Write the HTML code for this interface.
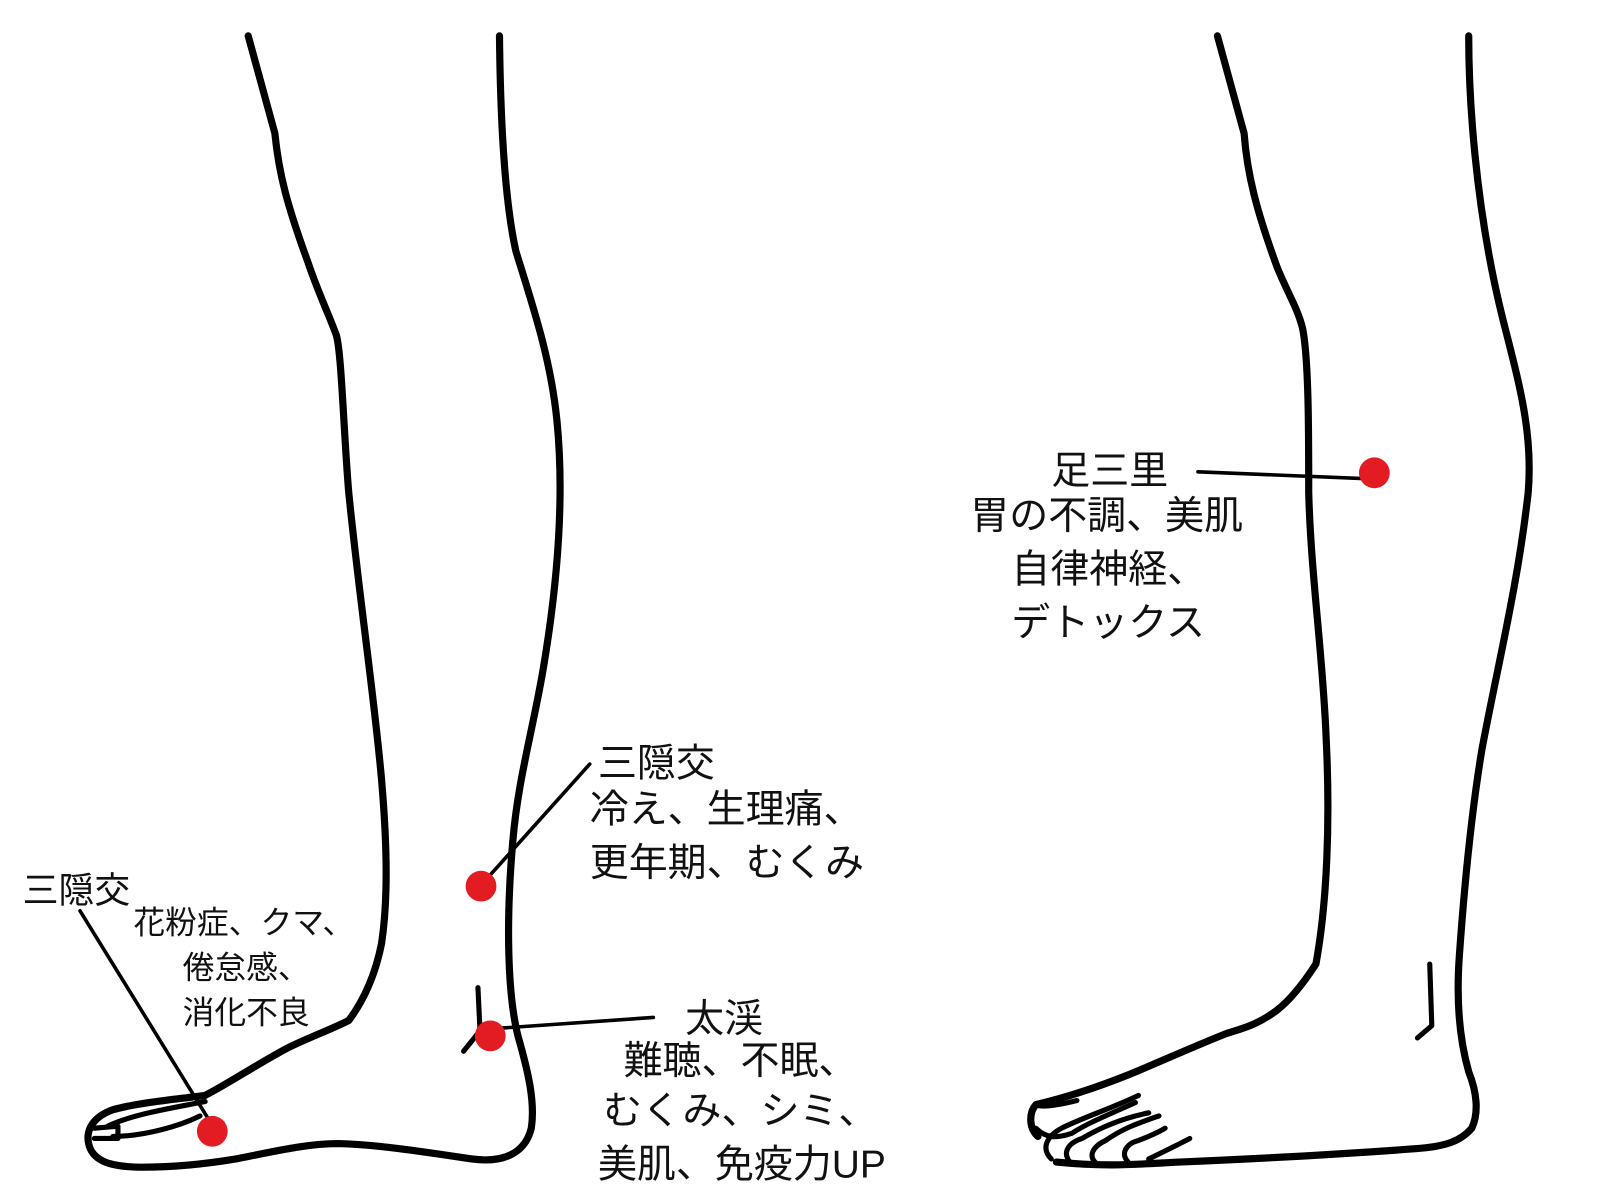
<!DOCTYPE html>
<html><head><meta charset="utf-8"><style>
html,body{margin:0;padding:0;background:#fff;}
svg{display:block;}
text{font-family:"Liberation Sans","Noto Sans CJK JP",sans-serif;fill:#111;}
</style></head><body>
<svg width="1600" height="1200" viewBox="0 0 1560 1170" xmlns="http://www.w3.org/2000/svg">
<g fill="none" stroke="#000" stroke-width="7" stroke-linecap="round" stroke-linejoin="round">
<path d="M242,35 L268,130 C272,170 280,200 300,255 C310,285 320,305 328,327 C333,345 335,420 340,480 C350,580 365,680 372,760 C378,830 378,880 372,920 C366,950 355,975 340,995 C320,1005 300,1012 280,1022 C250,1038 220,1058 200,1068 C170,1072 135,1075 110,1082 C88,1090 82,1105 88,1120 C95,1135 115,1138 140,1138 C170,1138 200,1135 230,1130 C270,1122 300,1115 330,1115 C370,1116 420,1124 460,1130 C490,1134 512,1125 518,1100 C522,1075 515,1045 505,1010 C495,970 493,900 500,820 C505,760 520,710 530,650 C545,560 550,480 543,410 C537,350 520,300 503,245 C493,200 488,130 487,35"/>
<path d="M1187,35 L1213,130 C1216,170 1225,205 1245,260 C1255,285 1265,300 1270,320 C1276,350 1276,420 1276,480 C1278,560 1290,640 1293,720 C1297,800 1294,880 1283,940 C1270,960 1258,975 1245,985 C1225,1000 1210,1003 1195,1008 C1160,1022 1120,1040 1100,1048 C1070,1060 1040,1070 1010,1077 C1003,1085 1003,1100 1012,1108"/>
<path d="M1030,1133 C1080,1138 1110,1135 1150,1133 C1220,1130 1300,1126 1380,1120 C1410,1118 1425,1112 1435,1100 C1442,1085 1440,1065 1432,1045 C1422,1010 1420,970 1423,930 C1428,860 1435,790 1445,730 C1460,650 1480,570 1490,480 C1495,420 1480,370 1465,310 C1450,250 1442,190 1438,150 C1434,110 1432,70 1432,35"/>
</g>
<g fill="none" stroke="#000" stroke-width="5" stroke-linecap="round" stroke-linejoin="round">
<path d="M105,1098 C130,1086 170,1080 200,1074"/>
<path d="M110,1108 C140,1108 175,1098 195,1088"/>
<path d="M92,1100 L115,1098 L115,1110 L92,1110"/>
<path d="M466,963 L468,1005 L452,1025"/>
<path d="M1394,940 L1396,1000 L1382,1012"/>
<path d="M1010,1077 C1015,1080 1030,1078 1050,1073"/>
<path d="M1010,1100 C1020,1110 1030,1110 1045,1105 C1060,1095 1085,1085 1107,1075"/>
<path d="M1025,1130 C1015,1120 1020,1108 1035,1100 C1055,1090 1085,1080 1110,1068"/>
<path d="M1045,1135 C1035,1125 1040,1115 1055,1110 C1075,1098 1095,1090 1120,1085"/>
<path d="M1070,1135 C1060,1128 1065,1118 1078,1112 C1095,1100 1110,1095 1130,1088"/>
<path d="M1100,1133 C1092,1125 1098,1115 1110,1112 C1120,1108 1128,1105 1136,1100"/>
<path d="M1120,1130 C1130,1125 1145,1118 1160,1110"/>
</g>
<g stroke="#000" stroke-width="3.5" stroke-linecap="round">
<line x1="78" y1="888" x2="210" y2="1102"/>
<line x1="575" y1="745" x2="470" y2="862"/>
<line x1="637" y1="992" x2="480" y2="1003"/>
<line x1="1168" y1="460" x2="1338" y2="467"/>
</g>
<g fill="#e31b23">
<circle cx="207" cy="1103" r="15"/>
<circle cx="469" cy="864" r="15"/>
<circle cx="478" cy="1010" r="15"/>
<circle cx="1340" cy="461" r="15"/>
</g>
<g font-size="31">
<text x="22" y="880" font-size="35">三隠交</text>
<text x="130" y="910">花粉症、クマ、</text>
<text x="178" y="954">倦怠感、</text>
<text x="178" y="998">消化不良</text>
</g>
<g font-size="38">
<text x="583" y="757">三隠交</text>
<text x="575" y="802">冷え、生理痛、</text>
<text x="575" y="854">更年期、むくみ</text>
<text x="668" y="1006">太渓</text>
<text x="608" y="1047">難聴、不眠、</text>
<text x="588" y="1096">むくみ、シミ、</text>
<text x="583" y="1148">美肌、免疫力UP</text>
<text x="1025" y="472">足三里</text>
<text x="946" y="516">胃の不調、美肌</text>
<text x="986" y="568">自律神経、</text>
<text x="986" y="620">デトックス</text>
</g>
</svg>
</body></html>
